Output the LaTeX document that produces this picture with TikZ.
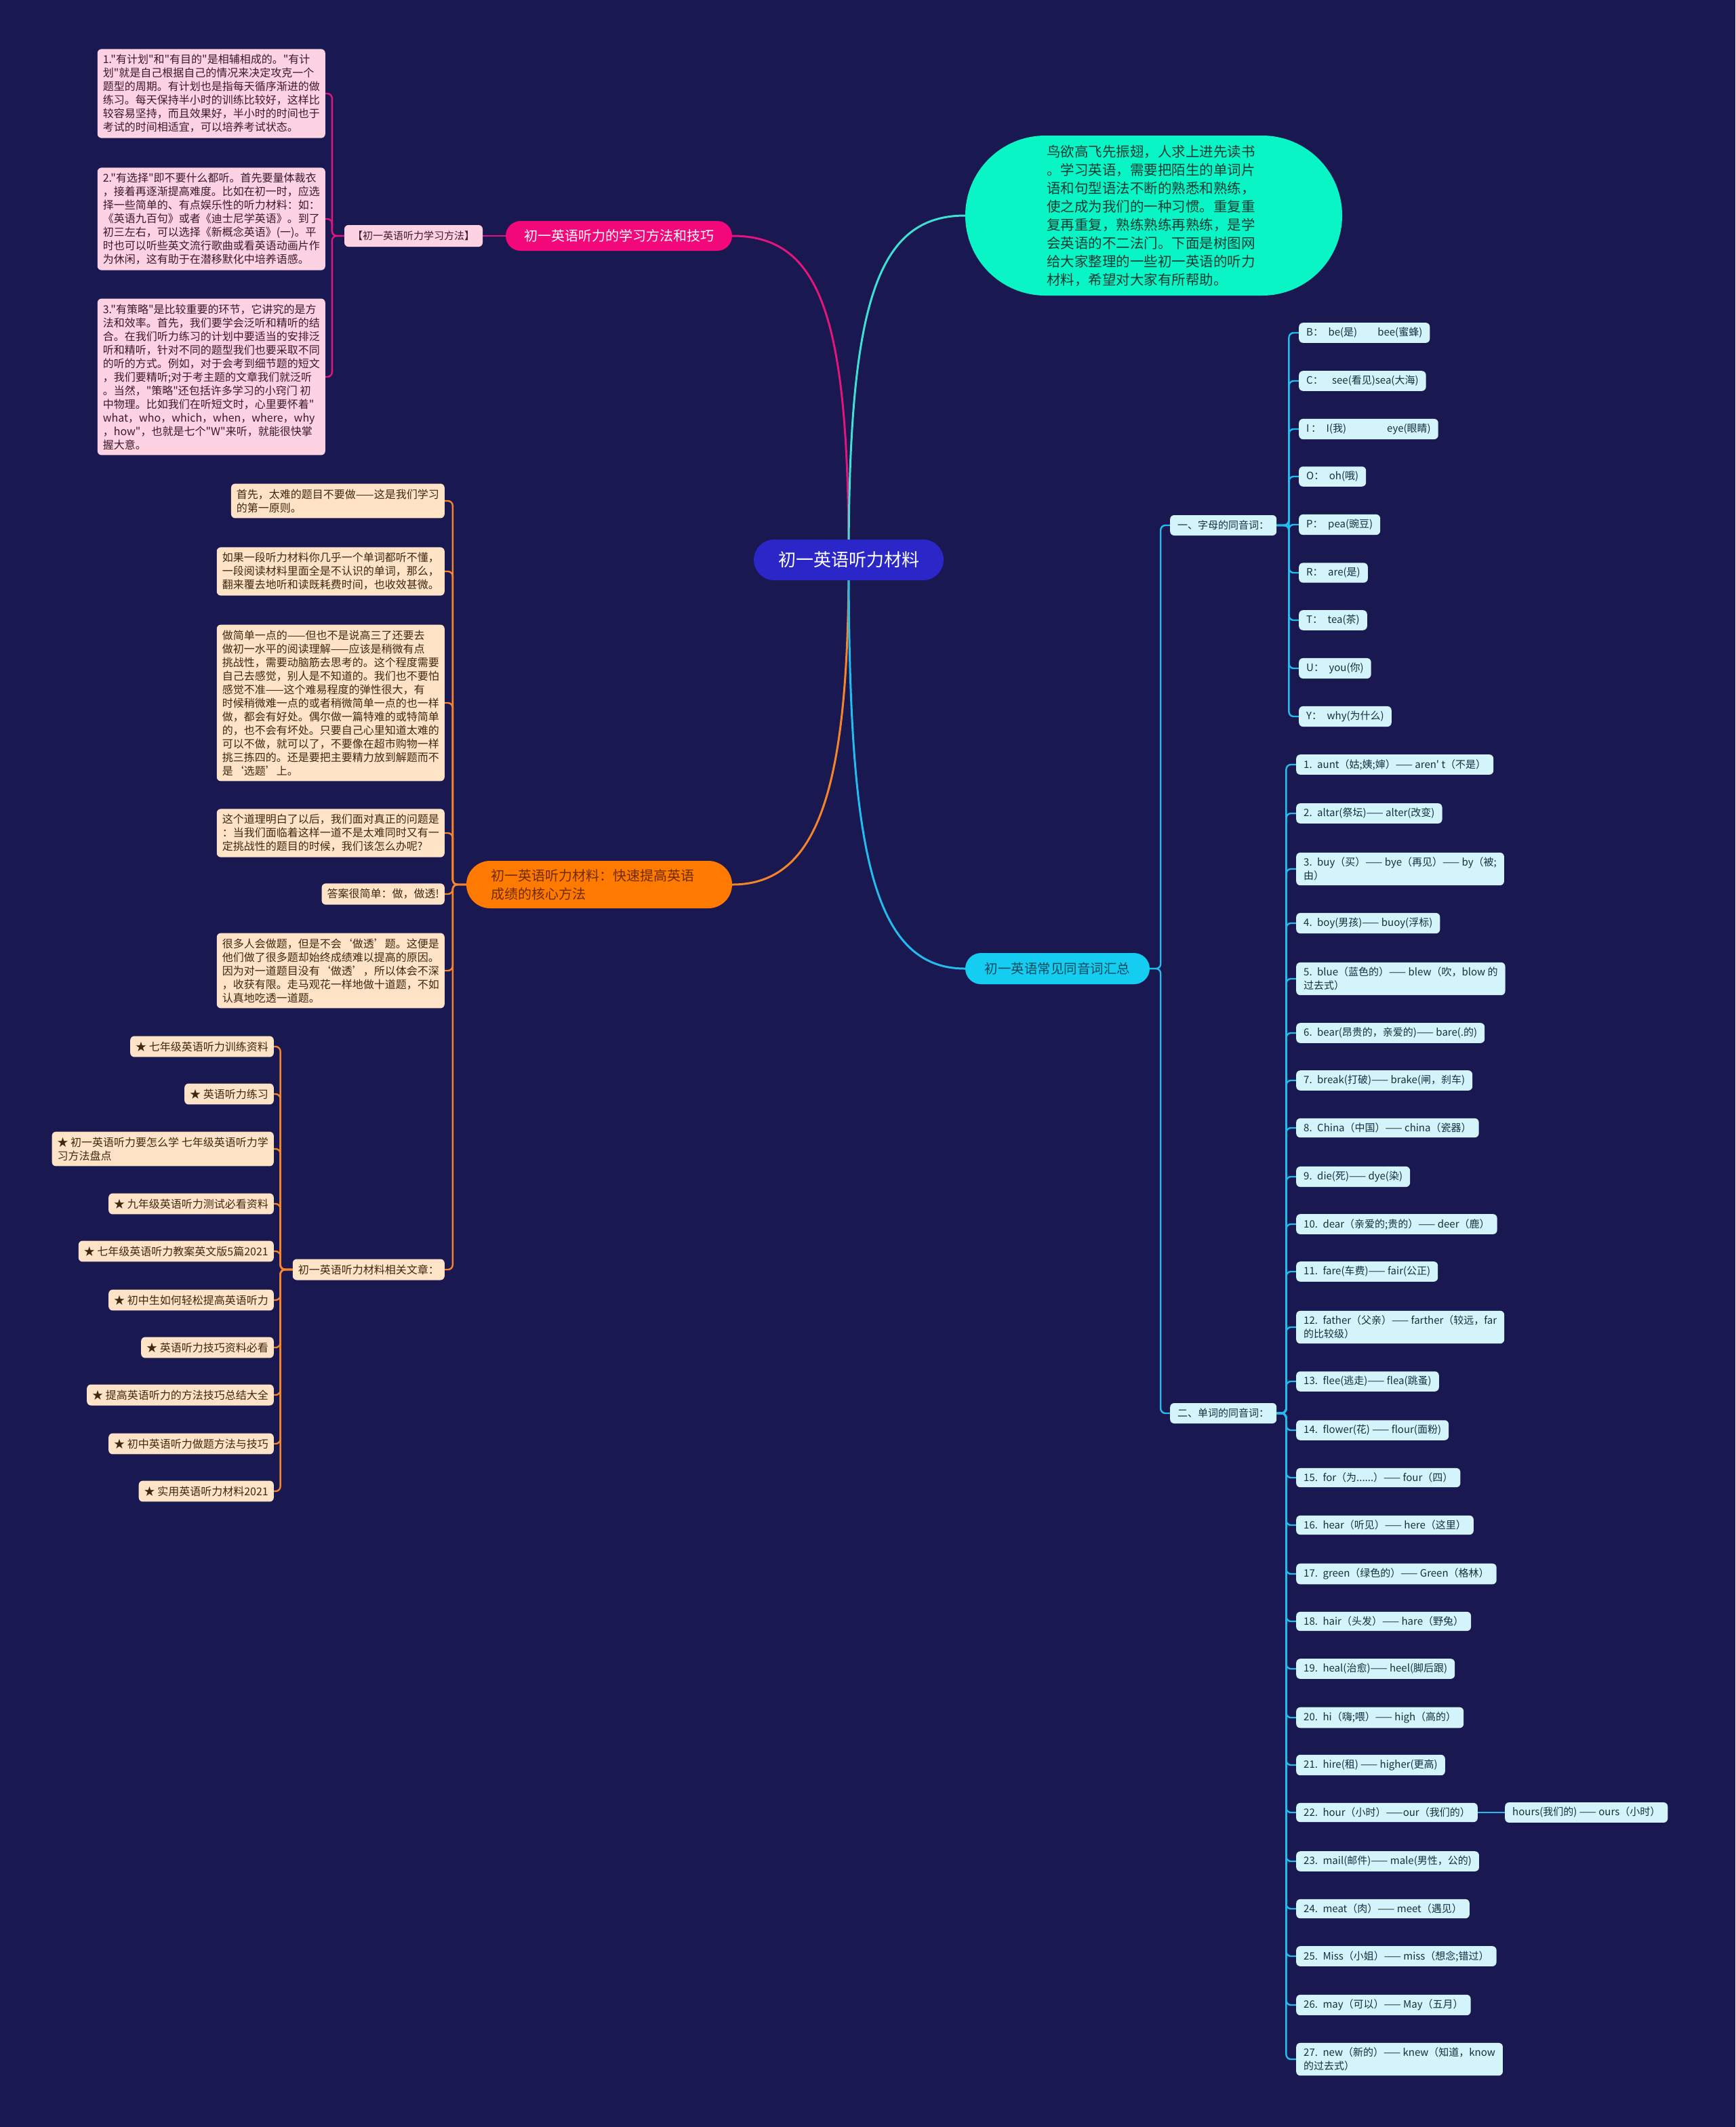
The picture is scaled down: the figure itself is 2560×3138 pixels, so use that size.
\documentclass[tikz,border=0pt]{standalone}
\usepackage{fontspec}
\setmainfont{Noto Sans CJK SC}[Ligatures=TeXOff]
\usepackage{xcolor}
\usepackage{tikz}
\usetikzlibrary{positioning,backgrounds}
\definecolor{bgnavy}{HTML}{1A1850}
\definecolor{rootblue}{HTML}{2A26C8}
\definecolor{pinkmain}{HTML}{F2087A}
\definecolor{pinklight}{HTML}{FDD3E4}
\definecolor{pinktext}{HTML}{3A1A28}
\definecolor{pinkline}{HTML}{E0157D}
\definecolor{orangemain}{HTML}{FF7A00}
\definecolor{orangetext}{HTML}{6E2C00}
\definecolor{peach}{HTML}{FFE3C6}
\definecolor{browntext}{HTML}{3E2812}
\definecolor{orangeline}{HTML}{F5852A}
\definecolor{aqua}{HTML}{0AF5C6}
\definecolor{aquatext}{HTML}{0E3B33}
\definecolor{tealline}{HTML}{3EE0D2}
\definecolor{cyanmain}{HTML}{14CDF0}
\definecolor{cyantext}{HTML}{0E4A5C}
\definecolor{icefill}{HTML}{D4F4FB}
\definecolor{icetext}{HTML}{12303E}
\definecolor{cyanline}{HTML}{22BDEE}
\newcommand{\setfs}[2]{\fontsize{#1}{#2}\selectfont}

\begin{document}
\begin{tikzpicture}[
  x=1pt, y=-1pt,
  every node/.style={align=center},
  root/.style={fill=rootblue, text=white, rounded corners=30pt, minimum width=280pt, minimum height=60pt, font=\setfs{26}{30}},
  pinkhead/.style={fill=pinkmain, text=white, rounded corners=22pt, minimum width=334pt, minimum height=44pt, font=\setfs{20}{24}},
  pinksub/.style={fill=pinklight, text=pinktext, rounded corners=6pt, minimum height=32pt, inner xsep=12pt, font=\setfs{15}{18}},
  pinknote/.style={fill=pinklight, text=pinktext, rounded corners=6pt, align=left, inner xsep=8pt, inner ysep=8pt, font=\setfs{16}{20}},
  orangehead/.style={fill=orangemain, text=orangetext, rounded corners=35pt, minimum height=70pt, text width=320pt, inner xsep=36pt, align=left, font=\setfs{20}{27}},
  orangenote/.style={fill=peach, text=browntext, rounded corners=6pt, align=left, inner xsep=8pt, inner ysep=8pt, font=\setfs{16}{20}},
  bubble/.style={fill=aqua, text=aquatext, rounded corners=118pt, minimum height=236pt, text width=316pt, inner xsep=120pt, align=left, font=\setfs{20.5}{27}},
  cyanhead/.style={fill=cyanmain, text=cyantext, rounded corners=23pt, minimum width=272pt, minimum height=46pt, font=\setfs{19.5}{24}},
  cyansub/.style={fill=icefill, text=icetext, rounded corners=6pt, minimum height=30pt, inner xsep=11pt, font=\setfs{15}{18}},
  wordbox/.style={fill=icefill, text=icetext, rounded corners=6pt, align=left, inner xsep=11pt, inner ysep=7pt, font=\setfs{15}{20}},
  pline/.style={draw=pinkline, line width=2.4pt, rounded corners=7pt},
  oline/.style={draw=orangeline, line width=2.4pt, rounded corners=7pt},
  cline/.style={draw=cyanline, line width=2.4pt, rounded corners=7pt}
]
  \useasboundingbox (0,0) rectangle (2560,3138);
  \begin{scope}[on background layer]
    \fill[bgnavy] (0,0) rectangle (2560,3138);
  \end{scope}

  \node[root] (root) at (1252,826) {初一英语听力材料};

  \node[pinkhead] (phead) at (913,348) {初一英语听力的学习方法和技巧};
  \node[pinksub] (psub) at (610,348) {【初一英语听力学习方法】};
  \node[pinknote, anchor=east] (p1) at (480,138) {1."有计划"和"有目的"是相辅相成的。"有计\\划"就是自己根据自己的情况来决定攻克一个\\题型的周期。有计划也是指每天循序渐进的做\\练习。每天保持半小时的训练比较好，这样比\\较容易坚持，而且效果好，半小时的时间也于\\考试的时间相适宜，可以培养考试状态。};
  \node[pinknote, anchor=east] (p2) at (480,323) {2."有选择"即不要什么都听。首先要量体裁衣\\，接着再逐渐提高难度。比如在初一时，应选\\择一些简单的、有点娱乐性的听力材料：如：\\《英语九百句》或者《迪士尼学英语》。到了\\初三左右，可以选择《新概念英语》(一)。平\\时也可以听些英文流行歌曲或看英语动画片作\\为休闲，这有助于在潜移默化中培养语感。};
  \node[pinknote, anchor=east] (p3) at (480,556) {3."有策略"是比较重要的环节，它讲究的是方\\法和效率。首先，我们要学会泛听和精听的结\\合。在我们听力练习的计划中要适当的安排泛\\听和精听，针对不同的题型我们也要采取不同\\的听的方式。例如，对于会考到细节题的短文\\，我们要精听;对于考主题的文章我们就泛听\\。当然，"策略"还包括许多学习的小窍门 初\\中物理。比如我们在听短文时，心里要怀着"\\what，who，which，when，where，why\\，how"，也就是七个"W"来听，就能很快掌\\握大意。};

  \node[orangehead] (ohead) at (884,1305) {初一英语听力材料：快速提高英语\\成绩的核心方法};
  \node[orangenote, anchor=east] (o1) at (656,739) {首先，太难的题目不要做——这是我们学习\\的第一原则。};
  \node[orangenote, anchor=east] (o2) at (656,843) {如果一段听力材料你几乎一个单词都听不懂，\\一段阅读材料里面全是不认识的单词，那么，\\翻来覆去地听和读既耗费时间，也收效甚微。};
  \node[orangenote, anchor=east] (o3) at (656,1037) {做简单一点的——但也不是说高三了还要去\\做初一水平的阅读理解——应该是稍微有点\\挑战性，需要动脑筋去思考的。这个程度需要\\自己去感觉，别人是不知道的。我们也不要怕\\感觉不准——这个难易程度的弹性很大，有\\时候稍微难一点的或者稍微简单一点的也一样\\做，都会有好处。偶尔做一篇特难的或特简单\\的，也不会有坏处。只要自己心里知道太难的\\可以不做，就可以了，不要像在超市购物一样\\挑三拣四的。还是要把主要精力放到解题而不\\是‘选题’上。};
  \node[orangenote, anchor=east] (o4) at (656,1229) {这个道理明白了以后，我们面对真正的问题是\\：当我们面临着这样一道不是太难同时又有一\\定挑战性的题目的时候，我们该怎么办呢?};
  \node[orangenote, anchor=east] (o5) at (656,1319) {答案很简单：做，做透!};
  \node[orangenote, anchor=east] (o6) at (656,1432) {很多人会做题，但是不会‘做透’题。这便是\\他们做了很多题却始终成绩难以提高的原因。\\因为对一道题目没有‘做透’，所以体会不深\\，收获有限。走马观花一样地做十道题，不如\\认真地吃透一道题。};
  \node[orangenote, anchor=east] (o7) at (656,1873) {初一英语听力材料相关文章：};

  \node[orangenote, anchor=east] (s1) at (404,1544) {★ 七年级英语听力训练资料};
  \node[orangenote, anchor=east] (s2) at (404,1614) {★ 英语听力练习};
  \node[orangenote, anchor=east] (s3) at (404,1695) {★ 初一英语听力要怎么学 七年级英语听力学\\习方法盘点};
  \node[orangenote, anchor=east] (s4) at (404,1776) {★ 九年级英语听力测试必看资料};
  \node[orangenote, anchor=east] (s5) at (404,1846) {★ 七年级英语听力教案英文版5篇2021};
  \node[orangenote, anchor=east] (s6) at (404,1918) {★ 初中生如何轻松提高英语听力};
  \node[orangenote, anchor=east] (s7) at (404,1988) {★ 英语听力技巧资料必看};
  \node[orangenote, anchor=east] (s8) at (404,2058) {★ 提高英语听力的方法技巧总结大全};
  \node[orangenote, anchor=east] (s9) at (404,2130) {★ 初中英语听力做题方法与技巧};
  \node[orangenote, anchor=east] (s10) at (404,2200) {★ 实用英语听力材料2021};

  \node[bubble] (intro) at (1702,318) {鸟欲高飞先振翅，人求上进先读书\\。学习英语，需要把陌生的单词片\\语和句型语法不断的熟悉和熟练，\\使之成为我们的一种习惯。重复重\\复再重复，熟练熟练再熟练，是学\\会英语的不二法门。下面是树图网\\给大家整理的一些初一英语的听力\\材料，希望对大家有所帮助。};

  \node[cyanhead] (chead) at (1560,1429) {初一英语常见同音词汇总};
  \node[cyansub, anchor=west] (letters) at (1726,775) {一、字母的同音词：};
  \node[cyansub, anchor=west] (words) at (1726,2085) {二、单词的同音词：};

  \node[wordbox, anchor=west] (lb) at (1916,491) {B：\enspace be(是)\qquad bee(蜜蜂)};
  \node[wordbox, anchor=west] (lc) at (1916,562) {C：\enspace\, see(看见)sea(大海)};
  \node[wordbox, anchor=west] (li) at (1916,633) {I\,：\enspace I(我)\qquad\qquad eye(眼睛)};
  \node[wordbox, anchor=west] (lo) at (1916,703) {O：\enspace oh(哦)};
  \node[wordbox, anchor=west] (lp) at (1916,774) {P：\enspace pea(豌豆)};
  \node[wordbox, anchor=west] (lr) at (1916,845) {R：\enspace are(是)};
  \node[wordbox, anchor=west] (lt) at (1916,915) {T：\enspace tea(茶)};
  \node[wordbox, anchor=west] (lu) at (1916,986) {U：\enspace you(你)};
  \node[wordbox, anchor=west] (ly) at (1916,1057) {Y：\enspace why(为什么)};

  \node[wordbox, anchor=west] (w1) at (1912,1128) {1.\enspace aunt（姑;姨;婶）—— aren' t（不是）};
  \node[wordbox, anchor=west] (w2) at (1912,1200) {2.\enspace altar(祭坛)—— alter(改变)};
  \node[wordbox, anchor=west] (w3) at (1912,1282) {3.\enspace buy（买）—— bye（再见）—— by（被;\\由）};
  \node[wordbox, anchor=west] (w4) at (1912,1362) {4.\enspace boy(男孩)—— buoy(浮标)};
  \node[wordbox, anchor=west] (w5) at (1912,1444) {5.\enspace blue（蓝色的）—— blew（吹，blow 的\\过去式）};
  \node[wordbox, anchor=west] (w6) at (1912,1524) {6.\enspace bear(昂贵的，亲爱的)—— bare(.的)};
  \node[wordbox, anchor=west] (w7) at (1912,1594) {7.\enspace break(打破)—— brake(闸，刹车)};
  \node[wordbox, anchor=west] (w8) at (1912,1664) {8.\enspace China（中国）—— china（瓷器）};
  \node[wordbox, anchor=west] (w9) at (1912,1736) {9.\enspace die(死)—— dye(染)};
  \node[wordbox, anchor=west] (w10) at (1912,1806) {10.\enspace dear（亲爱的;贵的）—— deer（鹿）};
  \node[wordbox, anchor=west] (w11) at (1912,1876) {11.\enspace fare(车费)—— fair(公正)};
  \node[wordbox, anchor=west] (w12) at (1912,1958) {12.\enspace father（父亲）—— farther（较远，far\\的比较级）};
  \node[wordbox, anchor=west] (w13) at (1912,2038) {13.\enspace flee(逃走)—— flea(跳蚤)};
  \node[wordbox, anchor=west] (w14) at (1912,2110) {14.\enspace flower(花) —— flour(面粉)};
  \node[wordbox, anchor=west] (w15) at (1912,2180) {15.\enspace for（为......）—— four（四）};
  \node[wordbox, anchor=west] (w16) at (1912,2250) {16.\enspace hear（听见）—— here（这里）};
  \node[wordbox, anchor=west] (w17) at (1912,2322) {17.\enspace green（绿色的）—— Green（格林）};
  \node[wordbox, anchor=west] (w18) at (1912,2392) {18.\enspace hair（头发）—— hare（野兔）};
  \node[wordbox, anchor=west] (w19) at (1912,2462) {19.\enspace heal(治愈)—— heel(脚后跟)};
  \node[wordbox, anchor=west] (w20) at (1912,2534) {20.\enspace hi（嗨;喂）—— high（高的）};
  \node[wordbox, anchor=west] (w21) at (1912,2604) {21.\enspace hire(租) —— higher(更高)};
  \node[wordbox, anchor=west] (w22) at (1912,2674) {22.\enspace hour（小时）——our（我们的）};
  \node[wordbox, anchor=west] (w22b) at (2220,2674) {hours(我们的) —— ours（小时）};
  \node[wordbox, anchor=west] (w23) at (1912,2746) {23.\enspace mail(邮件)—— male(男性，公的)};
  \node[wordbox, anchor=west] (w24) at (1912,2816) {24.\enspace meat（肉）—— meet（遇见）};
  \node[wordbox, anchor=west] (w25) at (1912,2886) {25.\enspace Miss（小姐）—— miss（想念;错过）};
  \node[wordbox, anchor=west] (w26) at (1912,2958) {26.\enspace may（可以）—— May（五月）};
  \node[wordbox, anchor=west] (w27) at (1912,3038) {27.\enspace new（新的）—— knew（知道，know\\的过去式）};

  \begin{scope}[on background layer]
    \draw[draw=pinkline, line width=3pt] (root.center) .. controls +(0,-360) and +(130,0) .. (phead.east);
    \draw[draw=tealline, line width=3pt] (root.center) .. controls +(0,-380) and +(-130,0) .. (intro.west);
    \draw[draw=orangeline, line width=3pt] (root.center) .. controls +(0,330) and +(130,0) .. (ohead.east);
    \draw[draw=cyanline, line width=3pt] (root.center) .. controls +(0,420) and +(-140,0) .. (chead.west);

    \draw[pline] (phead.west) -- (psub.east);
    \draw[pline] (psub.west) -- ++(-18,0) |- (p1.east);
    \draw[pline] (psub.west) -- ++(-18,0) |- (p2.east);
    \draw[pline] (psub.west) -- ++(-18,0) |- (p3.east);

    \draw[oline] (ohead.west) -- ++(-20,0) |- (o1.east);
    \draw[oline] (ohead.west) -- ++(-20,0) |- (o2.east);
    \draw[oline] (ohead.west) -- ++(-20,0) |- (o3.east);
    \draw[oline] (ohead.west) -- ++(-20,0) |- (o4.east);
    \draw[oline] (ohead.west) -- ++(-20,0) |- (o5.east);
    \draw[oline] (ohead.west) -- ++(-20,0) |- (o6.east);
    \draw[oline] (ohead.west) -- ++(-20,0) |- (o7.east);
    \draw[oline] (o7.west) -- ++(-18,0) |- (s1.east);
    \draw[oline] (o7.west) -- ++(-18,0) |- (s2.east);
    \draw[oline] (o7.west) -- ++(-18,0) |- (s3.east);
    \draw[oline] (o7.west) -- ++(-18,0) |- (s4.east);
    \draw[oline] (o7.west) -- ++(-18,0) |- (s5.east);
    \draw[oline] (o7.west) -- ++(-18,0) |- (s6.east);
    \draw[oline] (o7.west) -- ++(-18,0) |- (s7.east);
    \draw[oline] (o7.west) -- ++(-18,0) |- (s8.east);
    \draw[oline] (o7.west) -- ++(-18,0) |- (s9.east);
    \draw[oline] (o7.west) -- ++(-18,0) |- (s10.east);

    \draw[cline] (chead.east) -- ++(16,0) |- (letters.west);
    \draw[cline] (chead.east) -- ++(16,0) |- (words.west);
    \draw[cline] (letters.east) -- ++(18,0) |- (lb.west);
    \draw[cline] (letters.east) -- ++(18,0) |- (lc.west);
    \draw[cline] (letters.east) -- ++(18,0) |- (li.west);
    \draw[cline] (letters.east) -- ++(18,0) |- (lo.west);
    \draw[cline] (letters.east) -- ++(18,0) |- (lp.west);
    \draw[cline] (letters.east) -- ++(18,0) |- (lr.west);
    \draw[cline] (letters.east) -- ++(18,0) |- (lt.west);
    \draw[cline] (letters.east) -- ++(18,0) |- (lu.west);
    \draw[cline] (letters.east) -- ++(18,0) |- (ly.west);
    \draw[cline] (words.east) -- ++(14,0) |- (w1.west);
    \draw[cline] (words.east) -- ++(14,0) |- (w2.west);
    \draw[cline] (words.east) -- ++(14,0) |- (w3.west);
    \draw[cline] (words.east) -- ++(14,0) |- (w4.west);
    \draw[cline] (words.east) -- ++(14,0) |- (w5.west);
    \draw[cline] (words.east) -- ++(14,0) |- (w6.west);
    \draw[cline] (words.east) -- ++(14,0) |- (w7.west);
    \draw[cline] (words.east) -- ++(14,0) |- (w8.west);
    \draw[cline] (words.east) -- ++(14,0) |- (w9.west);
    \draw[cline] (words.east) -- ++(14,0) |- (w10.west);
    \draw[cline] (words.east) -- ++(14,0) |- (w11.west);
    \draw[cline] (words.east) -- ++(14,0) |- (w12.west);
    \draw[cline] (words.east) -- ++(14,0) |- (w13.west);
    \draw[cline] (words.east) -- ++(14,0) |- (w14.west);
    \draw[cline] (words.east) -- ++(14,0) |- (w15.west);
    \draw[cline] (words.east) -- ++(14,0) |- (w16.west);
    \draw[cline] (words.east) -- ++(14,0) |- (w17.west);
    \draw[cline] (words.east) -- ++(14,0) |- (w18.west);
    \draw[cline] (words.east) -- ++(14,0) |- (w19.west);
    \draw[cline] (words.east) -- ++(14,0) |- (w20.west);
    \draw[cline] (words.east) -- ++(14,0) |- (w21.west);
    \draw[cline] (words.east) -- ++(14,0) |- (w22.west);
    \draw[cline] (words.east) -- ++(14,0) |- (w23.west);
    \draw[cline] (words.east) -- ++(14,0) |- (w24.west);
    \draw[cline] (words.east) -- ++(14,0) |- (w25.west);
    \draw[cline] (words.east) -- ++(14,0) |- (w26.west);
    \draw[cline] (words.east) -- ++(14,0) |- (w27.west);
    \draw[cline] (w22.east) -- (w22b.west);
  \end{scope}
\end{tikzpicture}
\end{document}
